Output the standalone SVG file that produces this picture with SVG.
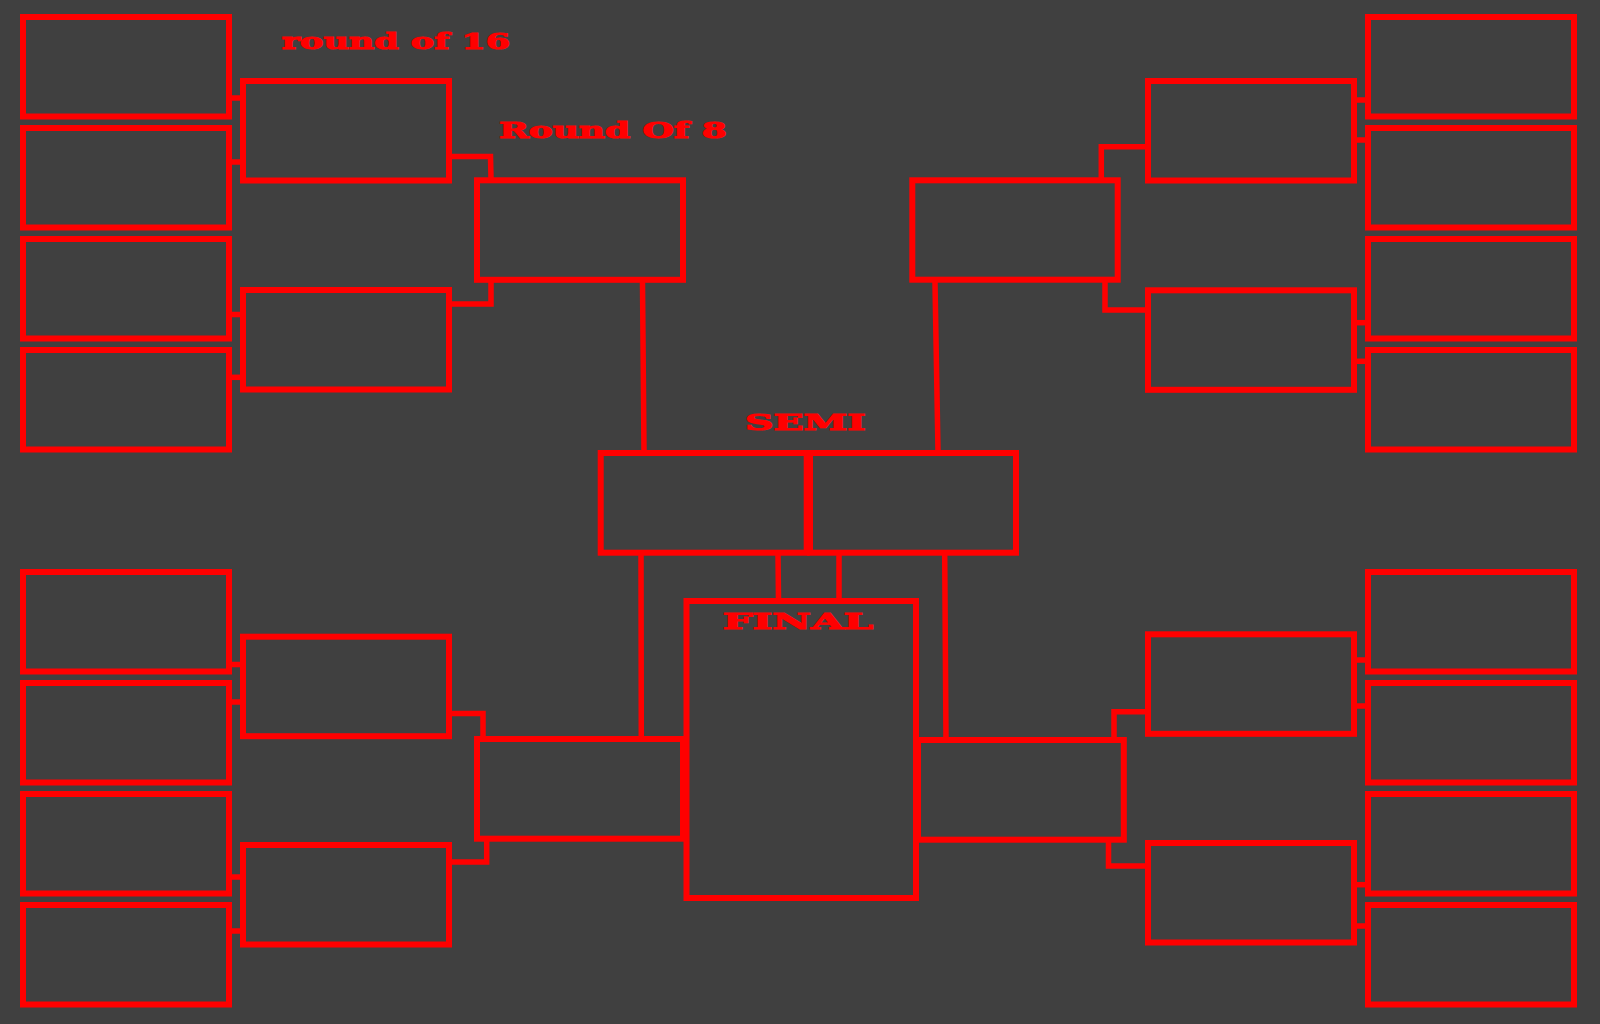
<svg xmlns="http://www.w3.org/2000/svg" width="1600" height="1024" viewBox="0 0 1600 1024">
<style>
.box{fill:none;stroke:#ff0000;stroke-width:6}
.ln{fill:none;stroke:#ff0000;stroke-width:5.5;stroke-linecap:square}
.lbl{fill:#ff0000;stroke:#ff0000;stroke-width:1.1;font-family:"DejaVu Serif","Liberation Serif",serif;font-weight:bold;font-size:23px}
</style>
<rect x="0" y="0" width="1600" height="1024" fill="#404040"/>
<g id="connectors">
<line class="ln" x1="231" y1="98" x2="241" y2="98"/>
<line class="ln" x1="231" y1="162" x2="241" y2="162"/>
<line class="ln" x1="231" y1="314.5" x2="241" y2="314.5"/>
<line class="ln" x1="231" y1="377.3" x2="241" y2="377.3"/>
<polyline class="ln" points="451,156.5 490.5,156.5 491,178"/>
<polyline class="ln" points="451,304 491,304 491,282"/>
<line class="ln" x1="642.5" y1="283" x2="644" y2="451"/>
<line class="ln" x1="641" y1="555" x2="641.3" y2="737"/>
<line class="ln" x1="778" y1="555" x2="778.5" y2="599"/>
<line class="ln" x1="839" y1="555" x2="839" y2="599"/>
<line class="ln" x1="944.7" y1="555" x2="946" y2="738"/>
<line class="ln" x1="935" y1="283" x2="938" y2="451"/>
<line class="ln" x1="231" y1="664.5" x2="241" y2="664.5"/>
<line class="ln" x1="231" y1="702" x2="241" y2="702"/>
<line class="ln" x1="231" y1="877" x2="241" y2="877"/>
<line class="ln" x1="231" y1="931" x2="241" y2="931"/>
<polyline class="ln" points="451,713.5 483,713.5 483,737"/>
<polyline class="ln" points="451,862 486.7,862 486.7,841"/>
<line class="ln" x1="1357" y1="100" x2="1366" y2="100"/>
<line class="ln" x1="1357" y1="140" x2="1366" y2="140"/>
<line class="ln" x1="1357" y1="322.7" x2="1366" y2="322.7"/>
<line class="ln" x1="1357" y1="361.3" x2="1366" y2="361.3"/>
<polyline class="ln" points="1146,146.7 1101.3,146.7 1101.3,178"/>
<polyline class="ln" points="1146,310 1105,310 1105,282"/>
<line class="ln" x1="1357" y1="660" x2="1366" y2="660"/>
<line class="ln" x1="1357" y1="706" x2="1366" y2="706"/>
<line class="ln" x1="1357" y1="884.7" x2="1366" y2="884.7"/>
<line class="ln" x1="1357" y1="926" x2="1366" y2="926"/>
<polyline class="ln" points="1146,711.7 1114,711.7 1114,738"/>
<polyline class="ln" points="1146,866 1108.5,866 1108.5,842"/>
</g>
<g id="left-r16">
<rect id="l16-1" class="box" x="23" y="17" width="206" height="99.5"/>
<rect id="l16-2" class="box" x="23" y="128" width="206" height="99.5"/>
<rect id="l16-3" class="box" x="23" y="239" width="206" height="99.5"/>
<rect id="l16-4" class="box" x="23" y="350" width="206" height="99.5"/>
<rect id="l16-5" class="box" x="23" y="572" width="206" height="99.5"/>
<rect id="l16-6" class="box" x="23" y="683" width="206" height="99.5"/>
<rect id="l16-7" class="box" x="23" y="794" width="206" height="99.5"/>
<rect id="l16-8" class="box" x="23" y="905" width="206" height="99.5"/>
</g>
<g id="right-r16">
<rect id="r16-1" class="box" x="1368" y="17" width="206" height="99.5"/>
<rect id="r16-2" class="box" x="1368" y="128" width="206" height="99.5"/>
<rect id="r16-3" class="box" x="1368" y="239" width="206" height="99.5"/>
<rect id="r16-4" class="box" x="1368" y="350" width="206" height="99.5"/>
<rect id="r16-5" class="box" x="1368" y="572" width="206" height="99.5"/>
<rect id="r16-6" class="box" x="1368" y="683" width="206" height="99.5"/>
<rect id="r16-7" class="box" x="1368" y="794" width="206" height="99.5"/>
<rect id="r16-8" class="box" x="1368" y="905" width="206" height="99.5"/>
</g>
<g id="left-r8">
<rect id="l8-1" class="box" x="243" y="81" width="206" height="99.5"/>
<rect id="l8-2" class="box" x="243" y="290" width="206" height="99.5"/>
<rect id="l8-3" class="box" x="243" y="636.7" width="206" height="99.5"/>
<rect id="l8-4" class="box" x="243" y="845" width="206" height="99.5"/>
</g>
<g id="right-r8">
<rect id="r8-1" class="box" x="1148" y="81" width="206" height="99.5"/>
<rect id="r8-2" class="box" x="1148" y="290.3" width="206" height="99.5"/>
<rect id="r8-3" class="box" x="1148" y="634.3" width="206" height="99.5"/>
<rect id="r8-4" class="box" x="1148" y="843" width="206" height="99.5"/>
</g>
<g id="quarters">
<rect id="qf-lt" class="box" x="477" y="180.3" width="206" height="99.5"/>
<rect id="qf-lb" class="box" x="477" y="739" width="206" height="99.7"/>
<rect id="qf-rt" class="box" x="912.3" y="180.3" width="205.4" height="99.4"/>
<rect id="qf-rb" class="box" x="918" y="740" width="205.8" height="99.7"/>
</g>
<g id="semis">
<rect id="semi-l" class="box" x="600.7" y="453" width="206" height="99.7"/>
<rect id="semi-r" class="box" x="810" y="453" width="206" height="99.7"/>
</g>
<g id="final">
<rect id="final-box" class="box" x="686.5" y="601" width="229.5" height="297"/>
</g>
<g id="labels">
<text class="lbl" x="281.7" y="49" textLength="228.3" lengthAdjust="spacingAndGlyphs">round of 16</text>
<text class="lbl" x="499" y="138.3" textLength="227.7" lengthAdjust="spacingAndGlyphs">Round Of 8</text>
<text class="lbl" x="745" y="429.5" textLength="120.7" lengthAdjust="spacingAndGlyphs">SEMI</text>
<text class="lbl" x="722.7" y="629.3" font-size="21" textLength="150.6" lengthAdjust="spacingAndGlyphs">FINAL</text>
</g>
</svg>
